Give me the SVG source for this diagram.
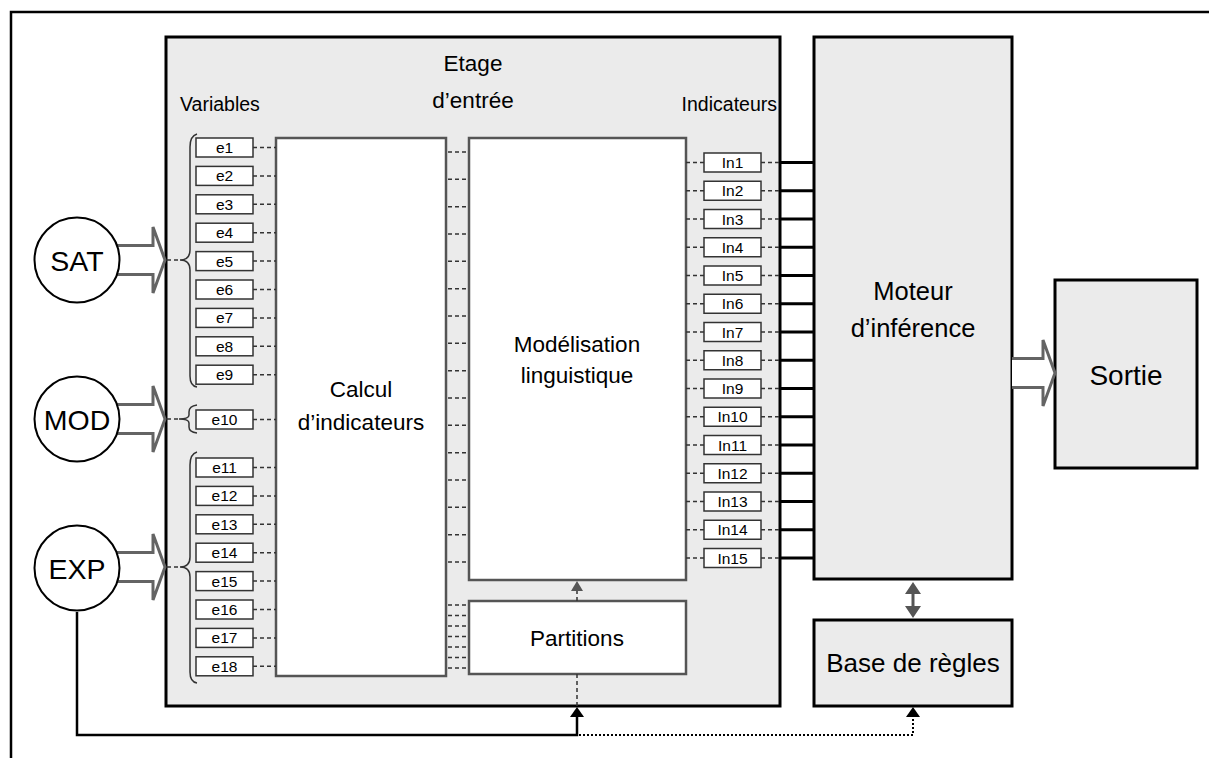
<svg xmlns="http://www.w3.org/2000/svg" width="1209" height="758" viewBox="0 0 1209 758">
<style>
.t{font-family:"Liberation Sans",Arial,sans-serif;fill:#000}
.eb{fill:#fff;stroke:#333;stroke-width:1.5}
.et{font-size:15.5px;text-anchor:middle}
.dash{stroke:#333;stroke-width:1.5;stroke-dasharray:4 3;fill:none}
.sol{stroke:#000;stroke-width:3;fill:none}
.inner{fill:#fff;stroke:#555;stroke-width:2.5}
.main{fill:#ebebeb;stroke:#000;stroke-width:3}
.blk{fill:#fff;stroke:#646464;stroke-width:3;stroke-linejoin:miter}
.brace{fill:none;stroke:#333;stroke-width:1.5}
.c{fill:#fff;stroke:#000;stroke-width:2}
.mid{text-anchor:middle}
</style>
<path d="M11,758 V12 H1209" fill="none" stroke="#000" stroke-width="2.5"/>

<g id="etage">
<rect class="main" x="166" y="37" width="614" height="669"/>
<text class="t mid" x="473" y="71" font-size="22.5">Etage</text>
<text class="t mid" x="473" y="108" font-size="22.5">d’entrée</text>
<text class="t" x="180" y="111" font-size="19.5">Variables</text>
<text class="t" x="777" y="111" font-size="19.5" text-anchor="end">Indicateurs</text>
</g>

<g id="calcul">
<rect class="inner" x="276" y="138" width="170" height="538"/>
<text class="t mid" x="361" y="397" font-size="22.5">Calcul</text>
<text class="t mid" x="361" y="430" font-size="22.5">d’indicateurs</text>
</g>

<g id="modelisation">
<rect class="inner" x="469" y="138" width="217" height="442"/>
<text class="t mid" x="577" y="352" font-size="22.5">Modélisation</text>
<text class="t mid" x="577" y="383" font-size="22.5">linguistique</text>
</g>

<g id="partitions">
<rect class="inner" x="469" y="601" width="217" height="73"/>
<text class="t mid" x="577" y="646" font-size="22.5">Partitions</text>
</g>

<g id="moteur">
<rect class="main" x="814" y="37" width="198" height="542"/>
<text class="t mid" x="913" y="300" font-size="25.5">Moteur</text>
<text class="t mid" x="913" y="337" font-size="25.5">d’inférence</text>
</g>

<g id="base">
<rect class="main" x="814" y="620" width="198" height="86"/>
<text class="t mid" x="913" y="672" font-size="26">Base de règles</text>
</g>

<g id="sortie">
<rect class="main" x="1055" y="280" width="142" height="188"/>
<text class="t mid" x="1126" y="385" font-size="28">Sortie</text>
</g>

<g id="variables">
<rect class="eb" x="196" y="138" width="57" height="19"/><text class="t et" x="224.5" y="153">e1</text>
<rect class="eb" x="196" y="166.4" width="57" height="19"/><text class="t et" x="224.5" y="181.4">e2</text>
<rect class="eb" x="196" y="194.8" width="57" height="19"/><text class="t et" x="224.5" y="209.8">e3</text>
<rect class="eb" x="196" y="223.2" width="57" height="19"/><text class="t et" x="224.5" y="238.2">e4</text>
<rect class="eb" x="196" y="251.6" width="57" height="19"/><text class="t et" x="224.5" y="266.6">e5</text>
<rect class="eb" x="196" y="280" width="57" height="19"/><text class="t et" x="224.5" y="295">e6</text>
<rect class="eb" x="196" y="308.4" width="57" height="19"/><text class="t et" x="224.5" y="323.4">e7</text>
<rect class="eb" x="196" y="336.8" width="57" height="19"/><text class="t et" x="224.5" y="351.8">e8</text>
<rect class="eb" x="196" y="365.2" width="57" height="19"/><text class="t et" x="224.5" y="380.2">e9</text>
<rect class="eb" x="196" y="410" width="57" height="19"/><text class="t et" x="224.5" y="425">e10</text>
<rect class="eb" x="196" y="458" width="57" height="19"/><text class="t et" x="224.5" y="473">e11</text>
<rect class="eb" x="196" y="486.4" width="57" height="19"/><text class="t et" x="224.5" y="501.4">e12</text>
<rect class="eb" x="196" y="514.8" width="57" height="19"/><text class="t et" x="224.5" y="529.8">e13</text>
<rect class="eb" x="196" y="543.2" width="57" height="19"/><text class="t et" x="224.5" y="558.2">e14</text>
<rect class="eb" x="196" y="571.6" width="57" height="19"/><text class="t et" x="224.5" y="586.6">e15</text>
<rect class="eb" x="196" y="600" width="57" height="19"/><text class="t et" x="224.5" y="615">e16</text>
<rect class="eb" x="196" y="628.4" width="57" height="19"/><text class="t et" x="224.5" y="643.4">e17</text>
<rect class="eb" x="196" y="656.8" width="57" height="19"/><text class="t et" x="224.5" y="671.8">e18</text>
</g>

<g id="indicateurs">
<rect class="eb" x="704" y="153" width="57" height="19"/><text class="t et" x="732.5" y="168">In1</text>
<rect class="eb" x="704" y="181.25" width="57" height="19"/><text class="t et" x="732.5" y="196.25">In2</text>
<rect class="eb" x="704" y="209.5" width="57" height="19"/><text class="t et" x="732.5" y="224.5">In3</text>
<rect class="eb" x="704" y="237.75" width="57" height="19"/><text class="t et" x="732.5" y="252.75">In4</text>
<rect class="eb" x="704" y="266" width="57" height="19"/><text class="t et" x="732.5" y="281">In5</text>
<rect class="eb" x="704" y="294.25" width="57" height="19"/><text class="t et" x="732.5" y="309.25">In6</text>
<rect class="eb" x="704" y="322.5" width="57" height="19"/><text class="t et" x="732.5" y="337.5">In7</text>
<rect class="eb" x="704" y="350.75" width="57" height="19"/><text class="t et" x="732.5" y="365.75">In8</text>
<rect class="eb" x="704" y="379" width="57" height="19"/><text class="t et" x="732.5" y="394">In9</text>
<rect class="eb" x="704" y="407.25" width="57" height="19"/><text class="t et" x="732.5" y="422.25">In10</text>
<rect class="eb" x="704" y="435.5" width="57" height="19"/><text class="t et" x="732.5" y="450.5">In11</text>
<rect class="eb" x="704" y="463.75" width="57" height="19"/><text class="t et" x="732.5" y="478.75">In12</text>
<rect class="eb" x="704" y="492" width="57" height="19"/><text class="t et" x="732.5" y="507">In13</text>
<rect class="eb" x="704" y="520.25" width="57" height="19"/><text class="t et" x="732.5" y="535.25">In14</text>
<rect class="eb" x="704" y="548.5" width="57" height="19"/><text class="t et" x="732.5" y="563.5">In15</text>
</g>

<g id="connectors">
<path class="blk" d="M112,245.5 H153 V227 L165,260 L153,293 V274.5 H112 Z"/>
<path class="blk" d="M112,404.5 H153 V386 L165,419 L153,452 V433.5 H112 Z"/>
<path class="blk" d="M112,552.5 H153 V534 L165,567 L153,600 V581.5 H112 Z"/>
<path class="blk" d="M1012,358.5 H1043 V340 L1055,373 L1043,406 V387.5 H1012"/>
<path class="brace" d="M197,134 Q190,136 190,147 L190,250 Q190,260 180,260 Q190,260 190,270 L190,376 Q190,386 197,387"/>
<path class="brace" d="M197,405 Q189,406 189,412 L189,415 Q189,419 179,419 Q189,419 189,423 L189,427 Q189,432 197,433"/>
<path class="brace" d="M197,452 Q190,454 190,465 L190,557 Q190,567 180,567 Q190,567 190,577 L190,672 Q190,682 197,683"/>
<path class="dash" d="M167,260 H180 M167,419 H179 M167,567 H180"/>
<path class="dash" d="M253,147.5 H276 M253,175.9 H276 M253,204.3 H276 M253,232.7 H276 M253,261.1 H276 M253,289.5 H276 M253,317.9 H276 M253,346.3 H276 M253,374.7 H276 M253,419.5 H276 M253,467.5 H276 M253,495.9 H276 M253,524.3 H276 M253,552.7 H276 M253,581.1 H276 M253,609.5 H276 M253,637.9 H276 M253,666.3 H276"/>
<path class="dash" d="M448,152 H469 M448,179.3 H469 M448,206.7 H469 M448,234 H469 M448,261.3 H469 M448,288.7 H469 M448,316 H469 M448,343.3 H469 M448,370.7 H469 M448,398 H469 M448,425.3 H469 M448,452.7 H469 M448,480 H469 M448,507.3 H469 M448,534.7 H469 M448,562 H469"/>
<path class="dash" d="M448,605 H469 M448,615.5 H469 M448,626 H469 M448,636.5 H469 M448,647 H469 M448,657.5 H469 M448,668 H469"/>
<path class="dash" d="M686,162.5 H704 M761,162.5 H780 M686,190.75 H704 M761,190.75 H780 M686,219 H704 M761,219 H780 M686,247.25 H704 M761,247.25 H780 M686,275.5 H704 M761,275.5 H780 M686,303.75 H704 M761,303.75 H780 M686,332 H704 M761,332 H780 M686,360.25 H704 M761,360.25 H780 M686,388.5 H704 M761,388.5 H780 M686,416.75 H704 M761,416.75 H780 M686,445 H704 M761,445 H780 M686,473.25 H704 M761,473.25 H780 M686,501.5 H704 M761,501.5 H780 M686,529.75 H704 M761,529.75 H780 M686,558 H704 M761,558 H780"/>
<path class="sol" d="M780,162.5 H814 M780,190.75 H814 M780,219 H814 M780,247.25 H814 M780,275.5 H814 M780,303.75 H814 M780,332 H814 M780,360.25 H814 M780,388.5 H814 M780,416.75 H814 M780,445 H814 M780,473.25 H814 M780,501.5 H814 M780,529.75 H814 M780,558 H814"/>
<path class="dash" d="M577,601 V590"/>
<path d="M571,591 L577,581 L583,591 Z" fill="#555"/>
<path class="dash" d="M577,674 V707"/>
<path d="M77,612 V735 H577 V716" fill="none" stroke="#000" stroke-width="2.5"/>
<path d="M570,717 L577,707 L584,717 Z" fill="#000"/>
<path d="M579,735 H913 V717" fill="none" stroke="#000" stroke-width="2" stroke-dasharray="2 2"/>
<path d="M906,717 L913,707 L920,717 Z" fill="#000"/>
<path d="M913,592 V608" stroke="#555" stroke-width="3"/>
<path d="M905,594 L913,582 L921,594 Z M905,606 L913,618 L921,606 Z" fill="#555"/>
</g>

<g id="sat">
<circle class="c" cx="77" cy="260" r="42.5"/>
<text class="t mid" x="77" y="271" font-size="28.5">SAT</text>
</g>
<g id="mod">
<circle class="c" cx="77" cy="419" r="42.5"/>
<text class="t mid" x="77" y="430" font-size="28.5">MOD</text>
</g>
<g id="exp">
<circle class="c" cx="77" cy="568" r="42.5"/>
<text class="t mid" x="77" y="579" font-size="28.5">EXP</text>
</g>
</svg>
